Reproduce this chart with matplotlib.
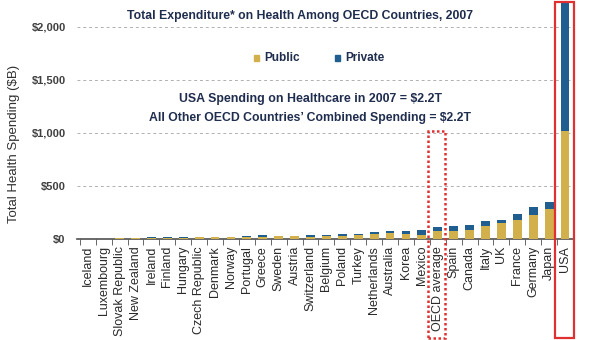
import matplotlib
matplotlib.use("Agg")
import matplotlib.pyplot as plt
import matplotlib.transforms as mtransforms
from matplotlib.patches import Rectangle
import numpy as np

plt.rcParams['font.family'] = ['Liberation Sans', 'DejaVu Sans']

countries = ["Iceland", "Luxembourg", "Slovak Republic", "New Zealand", "Ireland", "Finland",
             "Hungary", "Czech Republic", "Denmark", "Norway", "Portugal", "Greece", "Sweden",
             "Austria", "Switzerland", "Belgium", "Poland", "Turkey", "Netherlands", "Australia",
             "Korea", "Mexico", "OECD average", "Spain", "Canada", "Italy", "UK", "France",
             "Germany", "Japan", "USA"]
public = [1.0, 2.7, 5.5, 8, 12.8, 11, 11, 16, 16, 19, 18, 20, 27, 25, 23, 28, 31, 34, 50, 54,
          44, 42, 80, 80, 86, 125, 148, 180, 230, 285, 1020]
private = [0.2, 0.3, 2.5, 2, 3.2, 4, 5, 3, 3, 4, 8, 14, 6, 8, 15, 9, 14, 14, 13, 26,
           35, 42, 30, 43, 44, 43, 35, 55, 75, 63, 1220]
yticks = [0, 500, 1000, 1500, 2000]
yticklabels = ["$0", "$500", "$1,000", "$1,500", "$2,000"]

gold = "#D2B04C"
blue = "#1F5E8E"
navy = "#1F2D4E"
red = "#E03030"

fig = plt.figure(figsize=(6, 3.4), dpi=100)
ax = fig.add_axes([0.128, 0.297, 0.827, 0.703])

x = np.arange(len(countries))
w = 0.55
ax.bar(x, public, width=w, color=gold, zorder=3)
ax.bar(x, private, width=w, bottom=public, color=blue, zorder=3)

ax.set_xlim(-0.69, 30.5)
ax.set_ylim(0, 2250)
ax.set_yticks(yticks)
ax.set_yticklabels(yticklabels, fontsize=8, fontweight='bold', color='#404040')
ax.yaxis.grid(True, linestyle=(0, (3, 3)), color='#B0B0B0', linewidth=0.7, zorder=0)
ax.tick_params(axis='y', length=0, pad=8)

ax.set_xticks(x)
ax.set_xticklabels(countries, rotation=90, fontsize=9, color='#2A2A2A')
ax.set_xticks(np.arange(-0.5, len(countries), 1), minor=True)
ax.tick_params(axis='x', which='major', length=0, pad=5)
ax.tick_params(axis='x', which='minor', length=4, color='#505050', direction='out')

for s in ['top', 'right', 'left']:
    ax.spines[s].set_visible(False)
ax.spines['bottom'].set_color('#505050')
ax.spines['bottom'].set_linewidth(1.2)

fig.text(14 / 600, 1 - 144 / 340, "Total Health Spending ($B)", rotation=90,
         ha='center', va='center', fontsize=9.5, color='#303030')

fig.text(0.5, 0.953, "Total Expenditure* on Health Among OECD Countries, 2007",
         ha='center', va='center', fontsize=8.85, fontweight='bold', color=navy)

# legend
fig.patches.append(Rectangle((254 / 600, 1 - 61 / 340), 5 / 600, 6 / 340,
                             transform=fig.transFigure, color=gold))
fig.text(264 / 600, 1 - 58 / 340, "Public", ha='left', va='center', fontsize=8.5,
         fontweight='bold', color=navy)
fig.patches.append(Rectangle((335 / 600, 1 - 61 / 340), 5 / 600, 6 / 340,
                             transform=fig.transFigure, color=blue))
fig.text(345 / 600, 1 - 58 / 340, "Private", ha='left', va='center', fontsize=8.5,
         fontweight='bold', color=navy)

fig.text(310 / 600, 1 - 99 / 340, "USA Spending on Healthcare in 2007 = $2.2T",
         ha='center', va='center', fontsize=8.9, fontweight='bold', color=navy)
fig.text(310 / 600, 1 - 118 / 340, "All Other OECD Countries\u2019 Combined Spending = $2.2T",
         ha='center', va='center', fontsize=8.8, fontweight='bold', color=navy)

trans = mtransforms.blended_transform_factory(ax.transData, fig.transFigure)
r1 = Rectangle((21.38, 0.006), 1.07, 0.615 - 0.006, transform=trans, fill=False,
               edgecolor=red, linewidth=1.8, linestyle=(0, (1, 1)), clip_on=False, zorder=5)
r2 = Rectangle((29.37, 0.006), 1.2, 0.994 - 0.006, transform=trans, fill=False,
               edgecolor=red, linewidth=1.6, clip_on=False, zorder=5)
fig.patches.extend([r1, r2])

fig.savefig("out.png", dpi=100)
